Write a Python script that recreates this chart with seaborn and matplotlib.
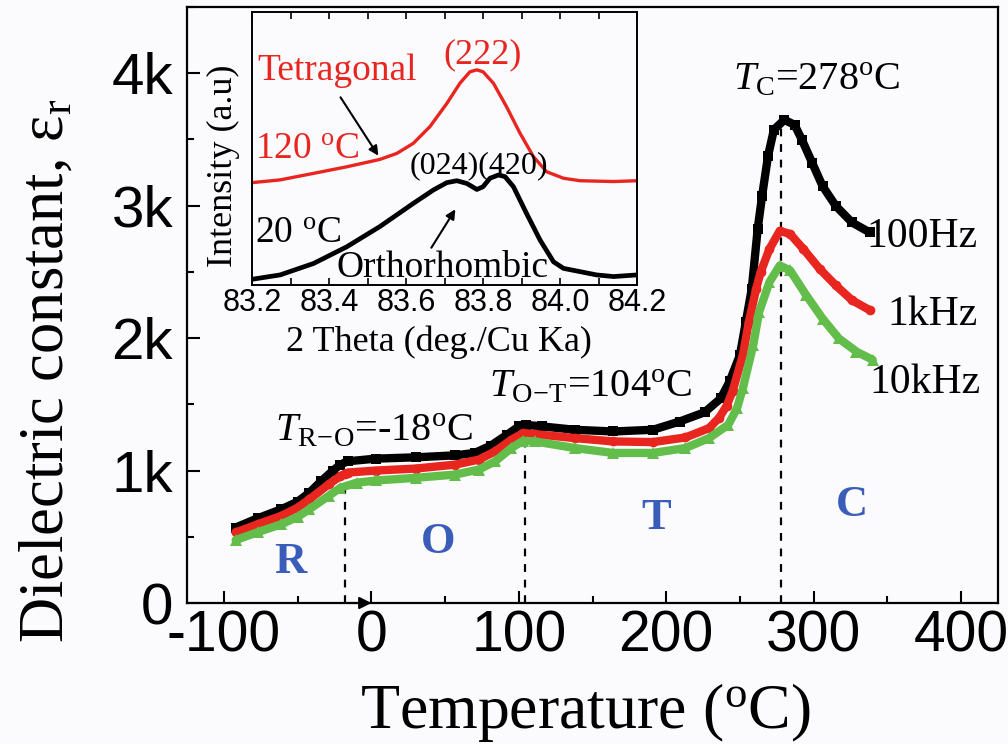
import matplotlib
matplotlib.use('Agg')
import matplotlib.pyplot as plt
from matplotlib.ticker import MultipleLocator, FixedLocator, FixedFormatter
import pandas as pd
import seaborn as sns

# ---------------- data ----------------
temp_100hz = [-92, -77, -61, -50, -42, -34, -26, -21, -16, 3, 30, 57, 70, 81, 92, 100, 105, 116,
              138, 164, 191, 209, 226, 237, 243, 250, 254, 258, 262, 265, 269, 273, 280, 287,
              292, 299, 306, 315, 326, 338]
eps_100hz = [570, 640, 708, 765, 833, 920, 1000, 1045, 1070, 1090, 1100, 1115, 1133, 1188, 1270,
             1333, 1345, 1333, 1308, 1295, 1308, 1370, 1440, 1545, 1673, 1873, 2123, 2373, 2823,
             3073, 3373, 3573, 3648, 3611, 3498, 3323, 3148, 2998, 2873, 2798]

temp_1khz = [-92, -77, -61, -50, -42, -29, -21, -18, -16, 3, 30, 57, 73, 84, 95, 103, 111, 138,
             164, 191, 213, 229, 236, 241, 245, 252, 256, 261, 264, 270, 277, 284, 293, 304,
             315, 326, 338]
eps_1khz = [533, 595, 658, 720, 783, 895, 958, 975, 985, 1000, 1015, 1045, 1083, 1145, 1233,
            1283, 1275, 1245, 1220, 1215, 1250, 1320, 1400, 1490, 1600, 1873, 2123, 2373, 2498,
            2673, 2810, 2786, 2673, 2523, 2398, 2286, 2211]

temp_10khz = [-92, -77, -61, -50, -42, -29, -21, -10, 3, 30, 57, 73, 84, 95, 103, 111, 138, 164,
              191, 213, 229, 242, 248, 252, 259, 263, 270, 277, 284, 295, 306, 317, 329, 340]
eps_10khz = [475, 535, 595, 650, 708, 808, 870, 908, 925, 945, 970, 1008, 1070, 1170, 1225,
             1220, 1170, 1133, 1133, 1170, 1245, 1345, 1470, 1623, 1948, 2198, 2423, 2548, 2511,
             2323, 2148, 1998, 1898, 1836]

# inset XRD profiles (2 theta, normalised intensity)
theta_120c = [83.2, 83.273, 83.36, 83.446, 83.532, 83.576, 83.619, 83.662, 83.706, 83.74, 83.766,
              83.784, 83.80, 83.827, 83.861, 83.896, 83.931, 83.965, 84.009, 84.052, 84.139, 84.2]
int_120c = [0.375, 0.385, 0.409, 0.433, 0.460, 0.482, 0.519, 0.580, 0.665, 0.739, 0.781, 0.788,
            0.781, 0.739, 0.653, 0.556, 0.470, 0.415, 0.391, 0.382, 0.379, 0.382]
theta_20c = [83.2, 83.273, 83.36, 83.446, 83.532, 83.619, 83.671, 83.706, 83.732, 83.758, 83.784,
             83.80, 83.818, 83.84, 83.857, 83.879, 83.913, 83.948, 83.983, 84.009, 84.052, 84.095,
             84.139, 84.2]
int_20c = [0.021, 0.037, 0.079, 0.140, 0.214, 0.299, 0.348, 0.375, 0.382, 0.372, 0.350, 0.360,
           0.391, 0.403, 0.397, 0.360, 0.262, 0.165, 0.085, 0.061, 0.049, 0.037, 0.031, 0.037]

freq_labels = ['100Hz', '1kHz', '10kHz']
x_ticks = [-100, 0, 100, 200, 300, 400]
x_tick_labels = ['-100', '0', '100', '200', '300', '400']
y_ticks = [0, 1000, 2000, 3000, 4000]
y_tick_labels = ['0', '1k', '2k', '3k', '4k']
inset_ticks = [83.2, 83.4, 83.6, 83.8, 84.0, 84.2]
inset_tick_labels = ['83.2', '83.4', '83.6', '83.8', '84.0', '84.2']
transition_temps = [-18, 104, 278]
transition_tops = [1040, 1230, 3600]
phase_labels = ['R', 'O', 'T', 'C']
phase_x = [-55, 45, 193, 326]
phase_y = [308, 457, 645, 740]

# ---------------- style ----------------
sns.set_theme(style='ticks')
BG = '#FBFBFE'
plt.rcParams.update({
    'font.family': ['Liberation Serif', 'DejaVu Sans'],
    'mathtext.fontset': 'custom',
    'mathtext.rm': 'Liberation Serif',
    'mathtext.it': 'Liberation Serif:italic',
    'mathtext.bf': 'Liberation Serif:bold',
    'axes.unicode_minus': False,
    'axes.edgecolor': 'black',
    'axes.linewidth': 1.6,
    'text.color': 'black',
    'axes.labelcolor': 'black',
    'xtick.color': 'black',
    'ytick.color': 'black',
    'xtick.labelcolor': 'black',
    'ytick.labelcolor': 'black',
    'figure.facecolor': BG,
    'axes.facecolor': BG,
})

BLACK = '#000000'
RED = '#E8251F'
GREEN = '#62BD4A'
BLUE = '#3A5DB9'

fig = plt.figure(figsize=(10.08, 7.44), dpi=100)
ax = fig.add_axes([0.1855, 0.1895, 0.8046, 0.8011])

df = pd.concat([
    pd.DataFrame({'T': temp_100hz, 'eps': eps_100hz, 'f': freq_labels[0]}),
    pd.DataFrame({'T': temp_1khz, 'eps': eps_1khz, 'f': freq_labels[1]}),
    pd.DataFrame({'T': temp_10khz, 'eps': eps_10khz, 'f': freq_labels[2]}),
])
styles = {freq_labels[0]: (BLACK, 's', 7.0),
          freq_labels[1]: (RED, 'o', 7.0),
          freq_labels[2]: (GREEN, '^', 8.0)}
for f in freq_labels:
    c, m, ms = styles[f]
    sns.lineplot(data=df[df['f'] == f], x='T', y='eps', ax=ax, color=c, linewidth=6,
                 marker=m, markersize=ms, markeredgewidth=0, sort=False, legend=False)

for xt, yt in zip(transition_temps, transition_tops):
    ax.plot([xt, xt], [0, yt], color='black', lw=1.6, dashes=(3.5, 3.5), zorder=1)

ax.annotate('', xy=(2, 0), xytext=(transition_temps[0], 0),
            arrowprops=dict(arrowstyle='-|>', color='black', lw=1.5, mutation_scale=18),
            annotation_clip=False)

ax.set_xlim(-125, 425)
ax.set_ylim(0, 4500)
ax.xaxis.set_major_locator(FixedLocator(x_ticks))
ax.xaxis.set_major_formatter(FixedFormatter(x_tick_labels))
ax.xaxis.set_minor_locator(MultipleLocator(50))
ax.yaxis.set_major_locator(FixedLocator(y_ticks))
ax.yaxis.set_major_formatter(FixedFormatter(y_tick_labels))
ax.yaxis.set_minor_locator(MultipleLocator(500))
ax.tick_params(which='both', direction='in', top=False, right=False, width=1.5, color='black')
ax.tick_params(which='major', length=9)
ax.tick_params(which='minor', length=5)
ax.tick_params(axis='x', which='major', labelsize=41, pad=5, labelfontfamily='Liberation Sans')
ax.tick_params(axis='y', which='major', labelsize=42, pad=10, labelfontfamily='Liberation Sans')
ax.set_xlabel('')
ax.set_ylabel('')
for s in ax.spines.values():
    s.set_visible(True)
    s.set_linewidth(1.6)

# annotations
ax.text(-65, 1232, r'$T_{\rm R\!-\!O}$=-18$^{\rm o}$C', fontsize=29, ha='left', va='baseline')
ax.text(80, 1563, r'$T_{\rm O\!-\!T}$=104$^{\rm o}$C', fontsize=29, ha='left', va='baseline')
ax.text(245, 3875, r'$T_{\rm C}$=278$^{\rm o}$C', fontsize=29, ha='left', va='baseline')
ax.text(336, 2691, freq_labels[0], fontsize=30, ha='left', va='baseline')
ax.text(350, 2100, freq_labels[1], fontsize=30, ha='left', va='baseline')
ax.text(338, 1584, freq_labels[2], fontsize=30, ha='left', va='baseline')
for lab, px, py in zip(phase_labels, phase_x, phase_y):
    ax.text(px, py, lab, fontsize=32, fontweight='bold', color=BLUE, ha='center', va='center')

fig.text(48 / 1008, 1 - 371 / 744, r'Dielectric constant, ε$_{\rm r}$', fontsize=45,
         rotation=90, ha='center', va='center')
fig.text(585 / 1008, 1 - 712 / 744, r'Temperature ($^{\rm o}$C)', fontsize=46,
         ha='center', va='center')

# ---------------- inset ----------------
ax_in = fig.add_axes([0.25, 0.6169, 0.382, 0.367])
ax_in.set_facecolor(BG)
sns.lineplot(x=theta_120c, y=int_120c, ax=ax_in, color=RED, linewidth=2.4, sort=False)
sns.lineplot(x=theta_20c, y=int_20c, ax=ax_in, color=BLACK, linewidth=3.4, sort=False)
ax_in.set_xlim(83.2, 84.2)
ax_in.set_ylim(0, 1)
ax_in.xaxis.set_major_locator(FixedLocator(inset_ticks))
ax_in.xaxis.set_major_formatter(FixedFormatter(inset_tick_labels))
ax_in.xaxis.set_minor_locator(MultipleLocator(0.1))
ax_in.tick_params(which='both', direction='in', top=True, bottom=True, left=False, right=False,
                  labelleft=False, length=5, width=1.2)
ax_in.tick_params(axis='x', labelsize=22, pad=2, labelfontfamily='Liberation Sans')
ax_in.set_xlabel('')
ax_in.set_ylabel('')
for s in ax_in.spines.values():
    s.set_linewidth(1.4)

ax_in.text(0.486, -0.209, '2 Theta (deg./Cu Ka)', fontsize=26, ha='center', va='center',
           transform=ax_in.transAxes)
ax_in.text(-0.073, 0.436, 'Intensity (a.u)', fontsize=26, rotation=90, ha='center', va='center',
           transform=ax_in.transAxes)
ax_in.text(83.213, 0.751, 'Tetragonal', fontsize=27, color=RED, ha='left', va='baseline')
ax_in.text(83.80, 0.812, '(222)', fontsize=26, color=RED, ha='center', va='baseline')
ax_in.text(83.208, 0.460, r'120 $^{\rm o}$C', fontsize=27, color=RED, ha='left', va='baseline')
ax_in.text(83.61, 0.411, '(024)(420)', fontsize=23, color=BLACK, ha='left', va='baseline')
ax_in.text(83.208, 0.153, r'20 $^{\rm o}$C', fontsize=27, color=BLACK, ha='left', va='baseline')
ax_in.text(83.42, 0.030, 'Orthorhombic', fontsize=27, color=BLACK, ha='left', va='baseline')
ax_in.annotate('', xy=(83.532, 0.465), xytext=(83.426, 0.696),
               arrowprops=dict(arrowstyle='-|>', color='black', lw=1.5, mutation_scale=14))
ax_in.annotate('', xy=(83.732, 0.286), xytext=(83.662, 0.128),
               arrowprops=dict(arrowstyle='-|>', color='black', lw=1.5, mutation_scale=14))

fig.savefig('out.png', dpi=100, facecolor=BG)
